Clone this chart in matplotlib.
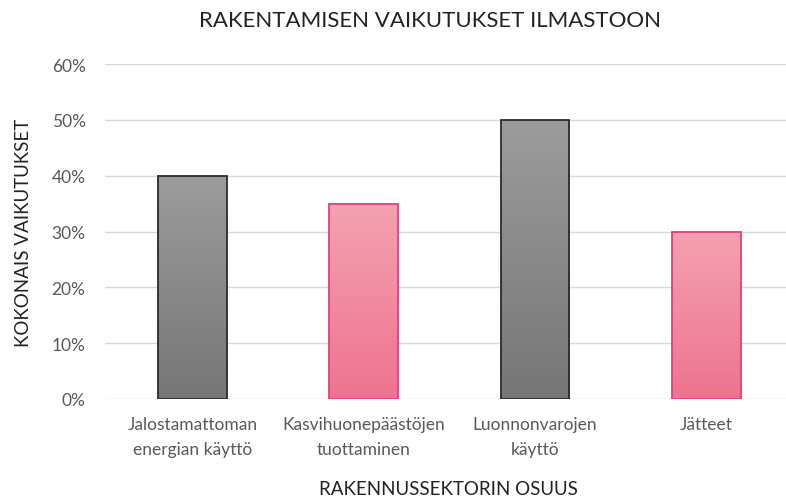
import numpy as np
import matplotlib
matplotlib.use("Agg")
import matplotlib.pyplot as plt
from matplotlib.colors import LinearSegmentedColormap

categories = ["Jalostamattoman\nenergian käyttö", "Kasvihuonepäästöjen\ntuottaminen",
              "Luonnonvarojen\nkäyttö", "Jätteet"]
values = [0.40, 0.35, 0.50, 0.30]
yticks = [0.0, 0.1, 0.2, 0.3, 0.4, 0.5, 0.6]

plt.rcParams['font.family'] = ['Lato', 'DejaVu Sans']

fig = plt.figure(figsize=(7.86, 5.02), dpi=100)
ax = fig.add_axes([0.1336, 0.2032, 0.8664, 0.6673])

gray_cmap = LinearSegmentedColormap.from_list("g", ["#767676", "#9c9c9c"])
pink_cmap = LinearSegmentedColormap.from_list("p", ["#ee7390", "#f4a1b0"])
grad = np.linspace(0, 1, 256).reshape(-1, 1)

x = np.arange(len(categories))
bars = ax.bar(x, values, width=0.4, zorder=3)
for i, b in enumerate(bars):
    if i % 2 == 0:
        cmap, edge = gray_cmap, "#2b2b2b"
    else:
        cmap, edge = pink_cmap, "#e0407a"
    b.set_facecolor("none")
    b.set_edgecolor(edge)
    b.set_linewidth(1.3)
    bx, by = b.get_x(), b.get_y()
    w, h = b.get_width(), b.get_height()
    # gradient fill clipped to the bar
    im = ax.imshow(grad, cmap=cmap, origin="lower", aspect="auto",
                   extent=[bx, bx + w, by, by + h], zorder=2)
    im.set_clip_path(b)

ax.set_xlim(-0.51, 3.465)
ax.set_ylim(0, 0.6)
ax.set_yticks(yticks)
ax.set_yticklabels([f"{int(round(t*100))}%" for t in yticks])
ax.set_xticks(x)
ax.set_xticklabels(categories, linespacing=1.75)
ax.grid(axis="y", color="#d9d9d9", linewidth=1.0, zorder=0)
for s in ax.spines.values():
    s.set_visible(False)
ax.tick_params(axis="both", length=0, labelsize=12.5, colors="#595959")
ax.tick_params(axis="y", pad=14)
ax.tick_params(axis="x", pad=12)

fig.text(430 / 786, 1 - 21 / 502, "RAKENTAMISEN VAIKUTUKSET ILMASTOON",
         fontsize=16, color="#222222", ha="center", va="center")
fig.text(448 / 786, 1 - 490 / 502, "RAKENNUSSEKTORIN OSUUS",
         fontsize=13.5, color="#222222", ha="center", va="center")
ax.set_ylabel("KOKONAIS VAIKUTUKSET", fontsize=13.5, color="#222222", labelpad=14)

fig.savefig("out.png", dpi=100)
